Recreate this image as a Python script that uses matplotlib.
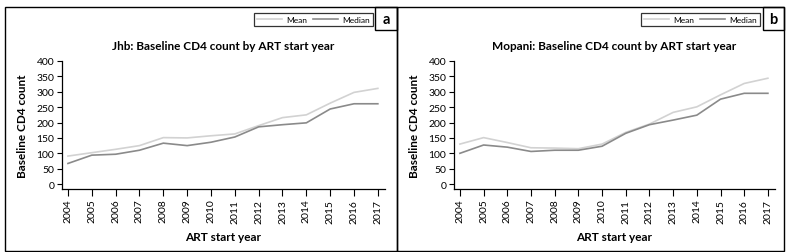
import matplotlib
matplotlib.use("Agg")
import matplotlib.pyplot as plt
from matplotlib.patches import Rectangle

plt.rcParams["font.family"] = ["Lato", "DejaVu Sans"]

years = list(range(2004, 2018))

jhb_mean = [91, 102, 113, 125, 151, 150, 157, 163, 190, 216, 225, 263, 298, 311]
jhb_median = [67, 94, 97, 110, 133, 125, 136, 153, 186, 193, 199, 244, 261, 261]

mopani_mean = [130, 151, 135, 118, 117, 115, 130, 168, 195, 233, 251, 290, 327, 344]
mopani_median = [100, 127, 120, 106, 110, 110, 123, 165, 193, 208, 224, 276, 295, 295]

panels = [
    ("Jhb: Baseline CD4 count by ART start year", jhb_mean, jhb_median, "a"),
    ("Mopani: Baseline CD4 count by ART start year", mopani_mean, mopani_median, "b"),
]

MEAN_COLOR = "#d2d2d2"
MEDIAN_COLOR = "#8a8a8a"

W, H = 797, 253
fig = plt.figure(figsize=(W / 100, H / 100), dpi=100)


def fx(px):
    return px / W


def fy(py):
    return 1 - py / H


# pixel layout: panel left/right, axis left/right, legend left/right, letter box left
layout = [
    (5, 397, 62, 385, 256, 371, 375),
    (397, 784, 454, 775, 642, 759, 763),
]

for (title, mean, median, letter), (pl, pr, al, ar, ll, lr, bl) in zip(panels, layout):
    fig.patches.append(Rectangle((fx(pl), fy(252)), fx(pr - pl), (252 - 8) / H,
                                 transform=fig.transFigure, fill=False,
                                 edgecolor="black", linewidth=1.0))
    fig.patches.append(Rectangle((fx(bl), fy(31)), fx(pr - bl), (31 - 8) / H,
                                 transform=fig.transFigure, fill=False,
                                 edgecolor="black", linewidth=1.0))
    fig.text(fx((bl + pr) / 2), fy(20), letter, ha="center", va="center",
             fontsize=10.5, fontweight="bold")

    ax = fig.add_axes([fx(al), fy(190), fx(ar - al), (190 - 62) / H])
    ax.plot(years, mean, color=MEAN_COLOR, lw=1.2, label="Mean")
    ax.plot(years, median, color=MEDIAN_COLOR, lw=1.2, label="Median")

    ax.set_ylim(-16, 400)
    ax.set_yticks(range(0, 401, 50))
    ax.set_xlim(2003.75, 2017.3)
    ax.set_xticks(years)
    ax.set_xticklabels([str(y) for y in years], rotation=90)
    ax.tick_params(axis="both", labelsize=7.5, colors="black", width=0.8, length=3.5, pad=2)
    ax.tick_params(axis="x", length=5)
    for side in ("top", "right"):
        ax.spines[side].set_visible(False)
    for side in ("left", "bottom"):
        ax.spines[side].set_linewidth(0.9)

    ax.set_title(title, fontsize=8.5, fontweight="bold", pad=9)
    ax.set_ylabel("Baseline CD4 count", fontsize=8.5, fontweight="bold", labelpad=6)
    ax.set_xlabel("ART start year", fontsize=8.5, fontweight="bold", labelpad=6)

    leg = ax.legend(loc="center", bbox_to_anchor=(fx((ll + lr) / 2), fy(20.5)),
                    bbox_transform=fig.transFigure, ncol=2, fontsize=6,
                    frameon=True, fancybox=False, edgecolor="black",
                    handlelength=3.0, handletextpad=0.5, columnspacing=0.6,
                    borderpad=0.4, borderaxespad=0)
    leg.get_frame().set_linewidth(0.9)

fig.savefig("out.png", dpi=100)
